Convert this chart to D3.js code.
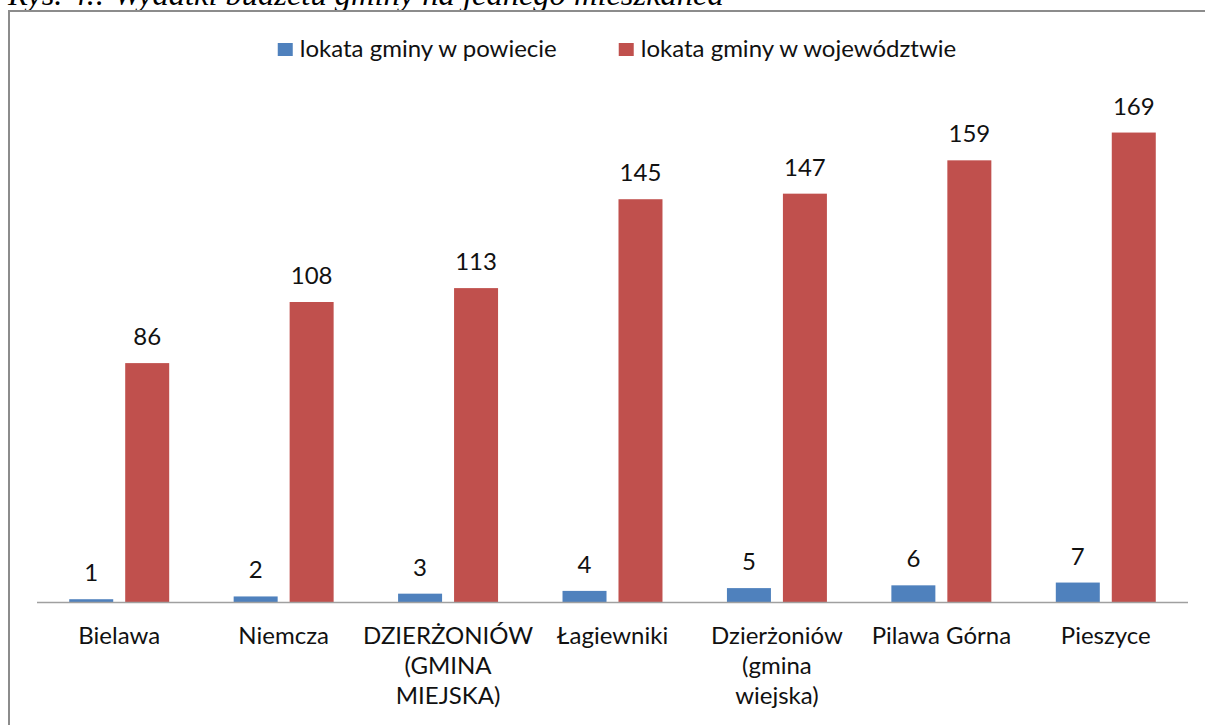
<!DOCTYPE html>
<html>
<head>
<meta charset="utf-8">
<script src="https://cdn.jsdelivr.net/npm/d3@7/dist/d3.min.js"></script>
<style>
  html, body { margin: 0; padding: 0; background: #fff; overflow: hidden; }
  svg { display: block; }
  .lbl { font-family: Lato, "Open Sans", sans-serif; font-size: 24px; fill: #111; }
  .title { font-family: "Liberation Serif", "DejaVu Serif", serif; font-style: italic; font-size: 32.5px; fill: #000; }
</style>
</head>
<body>
<div id="chart"></div>
<script>
// data
var categories = [
    'Bielawa',
    'Niemcza',
    'DZIERŻONIÓW\n(GMINA\nMIEJSKA)',
    'Łagiewniki',
    'Dzierżoniów\n(gmina\nwiejska)',
    'Pilawa Górna',
    'Pieszyce'
];
var seriesNames = ['lokata gminy w powiecie', 'lokata gminy w województwie'];
var powiat = [1, 2, 3, 4, 5, 6, 7];
var wojewodztwo = [86, 108, 113, 145, 147, 159, 169];
var colors = ['#4f81bd', '#c0504d'];
var titleText = 'Rys. 4.: Wydatki budżetu gminy na jednego mieszkańca';

var W = 1205, H = 725;
var margin = {top: 102, right: 17, bottom: 123, left: 37};
var width = W - margin.left - margin.right;
var height = H - margin.top - margin.bottom;

var data = categories.map(function(c, i) {
    return {name: c, values: [powiat[i], wojewodztwo[i]]};
});

var svg = d3.select('#chart').append('svg')
    .attr('width', W)
    .attr('height', H);

// caption above the chart box (the page crops its top, as in the source)
svg.append('text')
    .attr('class', 'title')
    .attr('x', 8)
    .attr('y', 5)
    .text(titleText);

// chart frame, runs off the right and bottom of the page
svg.append('rect')
    .attr('x', 9)
    .attr('y', 11)
    .attr('width', W + 20)
    .attr('height', H + 20)
    .attr('fill', 'none')
    .attr('stroke', '#8c8c8c')
    .attr('stroke-width', 2);

var g = svg.append('g')
    .attr('transform', 'translate(' + margin.left + ',' + margin.top + ')');

var x0 = d3.scaleBand()
    .domain(categories)
    .range([0, width])
    .paddingInner(0);

var groupW = x0.bandwidth() * 0.608;
var x1 = d3.scaleBand()
    .domain([0, 1])
    .range([(x0.bandwidth() - groupW) / 2, (x0.bandwidth() + groupW) / 2])
    .paddingInner(0.214);

var y = d3.scaleLinear()
    .domain([0, 180])
    .range([height, 0]);

var groups = g.selectAll('.grp')
    .data(data)
    .enter()
    .append('g')
    .attr('class', 'grp')
    .attr('transform', function(d) { return 'translate(' + x0(d.name) + ',0)'; });

groups.selectAll('rect')
    .data(function(d) { return d.values; })
    .enter()
    .append('rect')
    .attr('x', function(d, i) { return x1(i); })
    .attr('width', x1.bandwidth())
    .attr('y', function(d) { return y(d); })
    .attr('height', function(d) { return height - y(d); })
    .style('fill', function(d, i) { return colors[i]; });

groups.selectAll('text.val')
    .data(function(d) { return d.values; })
    .enter()
    .append('text')
    .attr('class', 'lbl val')
    .attr('text-anchor', 'middle')
    .attr('x', function(d, i) { return x1(i) + x1.bandwidth() / 2; })
    .attr('y', function(d) { return y(d) - 18; })
    .text(function(d) { return d; });

// baseline
g.append('line')
    .attr('x1', 0)
    .attr('x2', width)
    .attr('y1', height + 0.5)
    .attr('y2', height + 0.5)
    .attr('stroke', '#a0a0a0')
    .attr('stroke-width', 1.5);

// category labels, one tspan per line
var catText = groups.append('text')
    .attr('class', 'lbl')
    .attr('text-anchor', 'middle')
    .attr('transform', 'translate(' + (x0.bandwidth() / 2) + ',' + (height + 42) + ')');

catText.selectAll('tspan')
    .data(function(d) { return d.name.split('\n'); })
    .enter()
    .append('tspan')
    .attr('x', 0)
    .attr('y', function(d, i) { return i * 30; })
    .text(function(d) { return d; });

// legend, centred over the plot
var legend = svg.append('g').attr('class', 'legend');
var items = legend.selectAll('g')
    .data(seriesNames)
    .enter()
    .append('g');

items.append('rect')
    .attr('width', 15)
    .attr('height', 13)
    .attr('y', 43)
    .style('fill', function(d, i) { return colors[i]; });

items.append('text')
    .attr('class', 'lbl')
    .attr('x', 22)
    .attr('y', 57)
    .text(function(d) { return d; });

var offs = [], cur = 0;
items.each(function(d, i) {
    offs.push(cur);
    cur += this.getBBox().width + 62;
});
var total = cur - 62;
var startX = 617 - total / 2;
items.attr('transform', function(d, i) { return 'translate(' + (startX + offs[i]) + ',0)'; });
</script>
</body>
</html>
